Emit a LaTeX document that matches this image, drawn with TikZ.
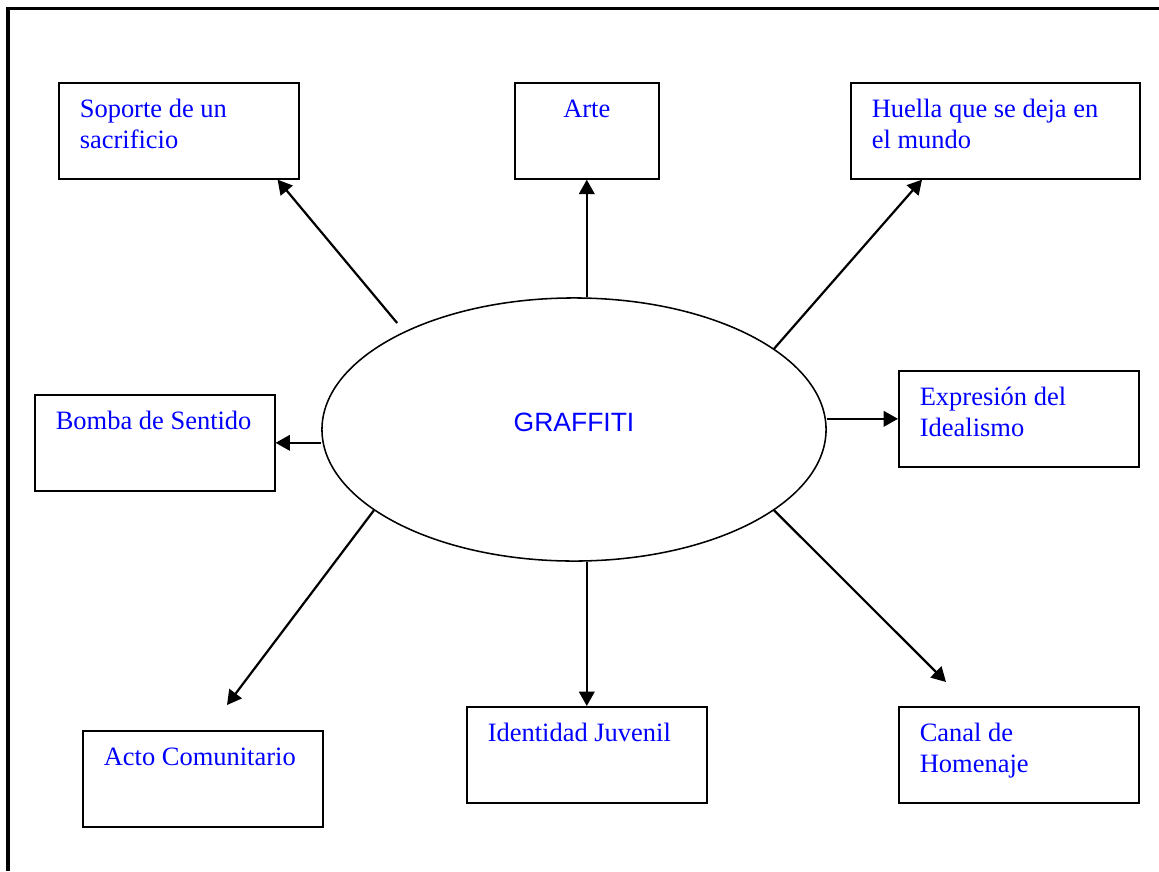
\documentclass[tikz,border=0pt]{standalone}
\usepackage{fontspec}
\setmainfont{Liberation Serif}
\newfontfamily\arialfam{Liberation Sans}
\usetikzlibrary{arrows.meta}
\usetikzlibrary{shapes.geometric}
\usetikzlibrary{calc}

% text block of a box: fixed height, text from the top left
\newcommand{\celda}[2]{\parbox[t][43.5pt][t]{#1}{\leftskip=9.5pt\baselineskip=14pt\rule{0pt}{15.9pt}#2}}

\tikzset{
	caja/.style={draw, line width=0.75pt, inner sep=0pt, anchor=north west, text=blue, font=\fontsize{12}{14}\selectfont},
	flecha/.style={-{Triangle[length=6.5pt,width=7pt]}, line width=1pt},
}

\begin{document}
\begin{tikzpicture}[x=0.4531pt, y=-0.4531pt]
	\useasboundingbox (0,0) rectangle (1159,871);

	% page frame, cut off at right and bottom
	\draw[line width=1.6pt] (8,871) -- (8,8.5) -- (1159,8.5);

	% central ellipse
	\node[draw, ellipse, line width=0.7pt, minimum width=228.4pt, minimum height=119.2pt, inner sep=0pt, text=blue, font=\arialfam\fontsize{12}{14}\selectfont, text depth=7pt] (graffiti) at (574,429.5) {GRAFFITI};

	% boxes round the ellipse
	\node[caja] (soporte) at (58,82) {\celda{108.7pt}{Soporte de un\\ sacrificio}};
	\node[caja] (arte) at (514,82) {\celda{65.2pt}{\centering Arte}};
	\node[caja] (huella) at (850,82) {\celda{130.9pt}{Huella que se deja en\\ el mundo}};
	\node[caja] (bomba) at (34,394) {\celda{108.7pt}{Bomba de Sentido}};
	\node[caja] (expresion) at (898,370) {\celda{108.7pt}{Expresión del\\ Idealismo}};
	\node[caja] (acto) at (82,730) {\celda{108.7pt}{Acto Comunitario}};
	\node[caja] (identidad) at (466,706) {\celda{108.7pt}{Identidad Juvenil}};
	\node[caja] (canal) at (898,706) {\celda{108.7pt}{Canal de\\ Homenaje}};

	% arrows out of the ellipse
	\draw[flecha, shorten <=5pt] (graffiti.150) -- ($(soporte.south east)+(-22,0)$);
	\draw[flecha] (graffiti.north -| arte.south) -- (arte.south);
	\draw[flecha] (graffiti.22) -- ($(huella.south west)+(72,0)$);
	\draw[flecha] (bomba.east -| graffiti.west) -- (bomba.east);
	\draw[flecha] (expresion.west -| graffiti.east) -- (expresion.west);
	\draw[flecha] (graffiti.202) -- ($(acto.north west)+(145,-25)$);
	\draw[flecha] (graffiti.south -| identidad.north) -- (identidad.north);
	\draw[flecha] (graffiti.338) -- ($(canal.north west)+(48,-24)$);

\end{tikzpicture}
\end{document}
